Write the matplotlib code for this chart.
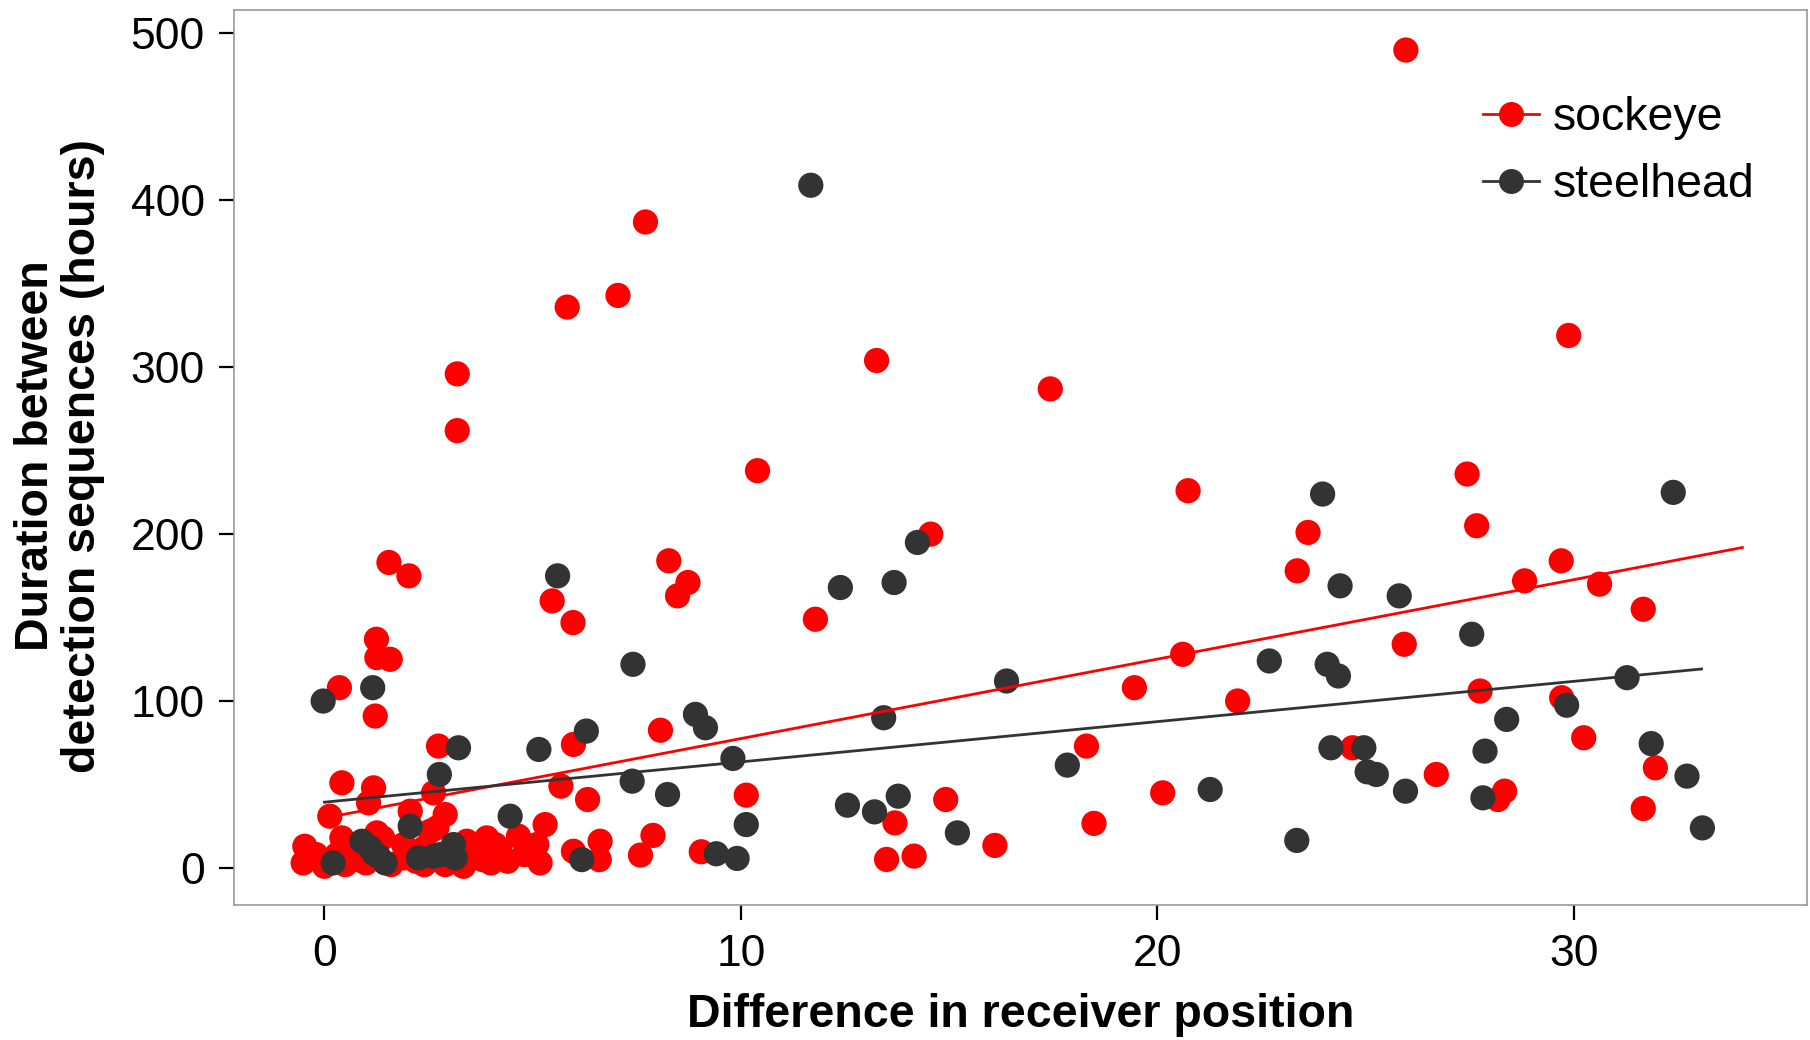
import numpy as np
import matplotlib
matplotlib.use('Agg')
import matplotlib.pyplot as plt
from matplotlib.lines import Line2D

plt.rcParams['font.family'] = ['Liberation Sans', 'DejaVu Sans']

# sockeye points (difference in receiver position, hours)
sockeye_x = [25.97, 7.71, 7.05, 5.83, 3.19, 3.19, 13.26, 17.43, 29.88, 10.4,
             27.44, 20.74, 23.62, 27.67, 14.56, 1.55, 2.03, 8.27, 8.73, 8.48,
             23.36, 29.7, 28.82, 30.62, 5.47, 5.97, 11.79, 31.67, 1.25, 1.26,
             1.58, 25.93, 20.61, 19.45, 0.36, 21.93, 27.75, 29.71, 1.22, 8.07,
             30.24, 5.98, 2.74, 18.3, 31.96, 26.7, 0.42, 5.68, 1.18, 10.13,
             20.13, 28.34, 28.18, 14.92, 6.32, 2.62, 24.69, 31.67, 18.48, 13.70,
             16.1, 13.5, 14.16, 7.59, 7.89, 9.05, 6.62, 5.18, 5.30, 4.66,
             0.13, 1.06, -0.47, -0.51, 0.42, 1.26, 2.06, 1.9, 0.0, 2.54,
             2.9, 5.1, 3.42, 3.9, 4.22, 2.7, 3.34, 3.8, 5.98, 6.6,
             0.8, 1.6, 2.2, 2.9, 4.4, 0.3, 1.4, 2.4, 3.6, 4.1,
             0.7, 1.0, 1.9, 2.4, 3.0, 3.6, 4.0, 4.8, -0.2, 0.5]
sockeye_y = [490, 387, 343, 336, 296, 262, 304, 287, 319, 238,
             236, 226, 201, 205, 200, 183, 175, 184, 171, 163,
             178, 184, 172, 170, 160, 147, 149, 155, 137, 126,
             125, 134, 128, 108, 108, 100, 106, 102, 91, 82.5,
             78, 74, 73, 73, 60, 56, 51, 49, 48, 43.6,
             45, 46, 41, 41, 41, 45, 72, 35.6, 26.7, 27,
             13.5, 5.1, 7.1, 7.7, 19.5, 9.7, 16, 3, 26, 19,
             31, 39, 13, 3, 18, 21, 34, 14, 1, 22,
             32, 14, 16, 18, 10, 24, 1, 5, 10, 5,
             5, 2, 4, 2, 4, 8, 18, 12, 8, 14,
             10, 3, 6, 2, 10, 14, 3, 8, 8, 2]

# steelhead points
steelhead_x = [11.68, 23.97, 32.39, 14.24, 5.6, 12.39, 13.68, 24.39, 25.81, 27.55,
               7.41, 22.69, 24.08, 24.35, 31.28, 16.38, 1.16, -0.03, 29.83, 8.91,
               13.43, 28.39, 9.15, 6.29, 31.86, 3.22, 5.15, 24.17, 24.96, 27.87,
               9.81, 17.84, 25.04, 25.26, 2.76, 32.72, 7.39, 21.27, 25.96, 8.24,
               13.78, 27.82, 12.56, 13.21, 4.46, 10.13, 2.06, 33.09, 15.2, 23.35,
               9.41, 9.91, 6.18, 0.21, 0.9, 1.18, 1.46, 2.26, 2.62, 2.78,
               3.14, 3.1, 1.1, 1.3]
steelhead_y = [409, 224, 225, 195, 175, 168, 171, 169, 163, 140,
               122, 124, 122, 115, 114, 112, 108, 100, 97.5, 92,
               90, 89, 84, 82, 74.5, 72, 71, 72, 72, 70,
               65.6, 61.6, 57.6, 56, 56, 55, 52, 47, 46, 44,
               43, 42, 37.6, 33.6, 31, 26, 25, 24, 21, 16.5,
               8.5, 5.7, 5, 3, 16, 9, 3, 6, 7, 8,
               6, 14, 12, 7]

# linear fits (intercept, slope) and x range of each fit
sockeye_fit = (29.9, 4.76)
steelhead_fit = (39.4, 2.413)
sockeye_fit_range = [0, 34.05]
steelhead_fit_range = [0, 33.07]

red = '#FF0000'
dark = '#333333'

fig = plt.figure(figsize=(18.1, 10.4), dpi=100)
ax = fig.add_axes([0.1293, 0.1298, 0.8690, 0.8606])

ax.scatter(sockeye_x, sockeye_y, s=330, color=red, edgecolors='none', zorder=2)
ax.scatter(steelhead_x, steelhead_y, s=330, color=dark, edgecolors='none', zorder=3)

xr = np.array(sockeye_fit_range)
ax.plot(xr, sockeye_fit[0] + sockeye_fit[1] * xr, color=red, lw=2, zorder=4)
xr = np.array(steelhead_fit_range)
ax.plot(xr, steelhead_fit[0] + steelhead_fit[1] * xr, color=dark, lw=2, zorder=4)

ax.set_xlim(-2.17, 35.6)
ax.set_ylim(-22.2, 514)
ax.set_xticks([0, 10, 20, 30])
ax.set_yticks([0, 100, 200, 300, 400, 500])

for sp in ax.spines.values():
    sp.set_color('#999999')
    sp.set_linewidth(1.2)
ax.tick_params(axis='both', labelsize=32, length=11, width=1.6, color='black', pad=10)

ax.set_xlabel('Difference in receiver position', fontsize=33.5, fontweight='bold', labelpad=13)
fig.text(0.0329, 0.5615, 'Duration between\ndetection sequences (hours)', rotation=90,
         ha='center', va='center', fontsize=33.5, fontweight='bold', linespacing=1.08)

handles = [Line2D([], [], color=red, lw=2, marker='o', markersize=18, markeredgewidth=0),
           Line2D([], [], color=dark, lw=2, marker='o', markersize=18, markeredgewidth=0)]
ax.legend(handles, ['sockeye', 'steelhead'], loc='upper left', bbox_to_anchor=(0.794, 0.904),
          frameon=False, fontsize=33.5, handlelength=1.2, handletextpad=0.3,
          labelspacing=0.5, borderpad=0, borderaxespad=0)

fig.savefig('out.png', dpi=100)
